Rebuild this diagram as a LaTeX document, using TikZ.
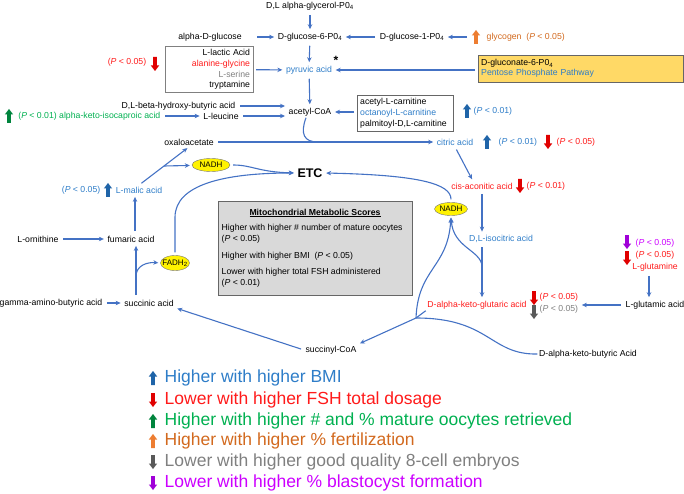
\documentclass[tikz,border=0pt]{standalone}
\usepackage{fontspec}
\setmainfont{Liberation Sans}
\usepackage{tikz}
\usetikzlibrary{shapes}
\usetikzlibrary{arrows.meta}
\definecolor{conblue}{HTML}{4472C4}
\definecolor{txtblue}{HTML}{2E7DC8}
\definecolor{arrblue}{HTML}{1F64A8}
\definecolor{txtred}{HTML}{FF1A1A}
\definecolor{arrred}{HTML}{E00000}
\definecolor{txtgreen}{HTML}{00B050}
\definecolor{arrgreen}{HTML}{00843D}
\definecolor{txtorange}{HTML}{D2691E}
\definecolor{arrorange}{HTML}{ED7D31}
\definecolor{txtgray}{HTML}{808080}
\definecolor{arrgray}{HTML}{595959}
\definecolor{txtpurple}{HTML}{CC00FF}
\definecolor{arrpurple}{HTML}{A000D8}
\definecolor{pppyellow}{HTML}{FFD966}
\definecolor{mitogray}{HTML}{D9D9D9}
\newcommand{\pval}[1]{(\textit{P} < #1)}

\begin{document}
\begin{tikzpicture}[x=1pt,y=-1pt,
	every node/.style={font=\fontsize{8.7}{10.7}\selectfont,inner sep=1.5pt},
	conn/.style={draw=conblue,line width=1.1pt,-{Stealth[length=5pt,width=4.5pt]},shorten <=3pt,shorten >=2pt},
	link/.style={draw=conblue,line width=1.1pt},
	carrier/.style={ellipse,draw=black!55,fill=yellow,inner sep=0pt,font=\fontsize{8}{9}\selectfont},
	upblk/.pic={\fill (-1.8,7) -- (1.8,7) -- (1.8,-1.5) -- (4.2,-1.5) -- (0,-7) -- (-4.2,-1.5) -- (-1.8,-1.5) -- cycle;},
	dnblk/.pic={\fill (-1.8,-7) -- (1.8,-7) -- (1.8,1.5) -- (4.2,1.5) -- (0,7) -- (-4.2,1.5) -- (-1.8,1.5) -- cycle;},
	legend/.style={anchor=west,font=\fontsize{17.5}{21}\selectfont}
	]
	\useasboundingbox (0,0) rectangle (684,494);
	\node (glycerol) at (310,6) {D,L alpha-glycerol-P0\textsubscript{4}};
	\node (g6p) at (310,37) {D-glucose-6-P0\textsubscript{4}};
	\node (adglc) at (210,37) {alpha-D-glucose};
	\node (g1p) at (412,37) {D-glucose-1-P0\textsubscript{4}};
	\pic[color=arrorange] at (476,37) {upblk};
	\node[text=txtorange,anchor=west] (glycogen) at (485,37) {glycogen~~\pval{0.05}};
	\node[text=txtblue] (pyruvic) at (309,70) {pyruvic acid};
	\node[font=\fontsize{12}{12}\selectfont\bfseries,inner sep=0pt] (ast) at (336,60) {*};
	\node[draw=gray,text width=82pt,align=right,inner sep=3pt,minimum height=43pt] (lactic) at (209,69.5) {L-lactic Acid\\\textcolor{txtred}{alanine-glycine}\\\textcolor{txtgray}{L-serine}\\tryptamine};
	\pic[color=arrred] at (155,64) {dnblk};
	\node[text=txtred] (lacp) at (127,62) {\pval{0.05}};
	\node[draw=gray!80!black,fill=pppyellow,anchor=north west,minimum width=205pt,minimum height=27pt,text width=199pt,align=left,inner sep=3pt,font=\fontsize{8.7}{10}\selectfont] (ppp) at (478,55) {D-gluconate-6-P0\textsubscript{4}\\\textcolor{txtblue}{Pentose Phosphate Pathway}};
	\node (acetyl) at (310,112) {acetyl-CoA};
	\node[anchor=east] (hydroxy) at (237,106) {D,L-beta-hydroxy-butyric acid};
	\node (leucine) at (221,116) {L-leucine};
	\pic[color=arrgreen] at (9,116) {upblk};
	\node[text=txtgreen,anchor=east] (isocap) at (162,116) {\pval{0.01} alpha-keto-isocaproic acid};
	\node[draw=gray!80!black,text width=90pt,align=left,inner sep=3pt,anchor=north west,font=\fontsize{8.7}{11}\selectfont] (carn) at (357,95) {acetyl-L-carnitine\\\textcolor{txtblue}{octanoyl-L-carnitine}\\palmitoyl-D,L-carnitine};
	\pic[color=arrblue] at (467,111) {upblk};
	\node[text=txtblue,anchor=west] (carnp) at (472,111) {\pval{0.01}};
	\node (oxalo) at (189,142) {oxaloacetate};
	\node[text=txtblue] (citric) at (455,142) {citric acid};
	\pic[color=arrblue] at (487,142) {upblk};
	\node[text=txtblue,anchor=west] (citp1) at (497,142) {\pval{0.01}};
	\pic[color=arrred] at (548,142) {dnblk};
	\node[text=txtred,anchor=west] (citp2) at (555,142) {\pval{0.05}};
	\node[carrier,minimum width=38pt,minimum height=13pt] (nadh1) at (211,165) {\makebox[0pt]{NADH}};
	\node[font=\fontsize{12.5}{14}\selectfont\bfseries] (etc) at (310,173) {ETC};
	\node[text=txtred] (cisaco) at (482,186) {cis-aconitic acid};
	\pic[color=arrred] at (520,186) {dnblk};
	\node[text=txtred,anchor=west] (cisp) at (525,186) {\pval{0.01}};
	\node[carrier,minimum width=33pt,minimum height=13pt] (nadh2) at (451,209) {\makebox[0pt]{NADH}};
	\node[text=txtblue] (malic) at (139,190) {L-malic acid};
	\pic[color=arrblue] at (108,190) {upblk};
	\node[text=txtblue,anchor=east] (malp) at (102,190) {\pval{0.05}};
	\node (ornithine) at (38,239) {L-ornithine};
	\node (fumaric) at (131,239) {fumaric acid};
	\node[text=txtblue] (isocitric) at (501,239) {D,L-isocitric acid};
	\pic[color=arrpurple] at (627,242) {dnblk};
	\node[text=txtpurple,anchor=west] (glnp1) at (634,243) {\pval{0.05}};
	\pic[color=arrred] at (627,258) {dnblk};
	\node[text=txtred,anchor=west] (glnp2) at (634,255) {\pval{0.05}};
	\node[text=txtred] (glutamine) at (655,267) {L-glutamine};
	\node[carrier,minimum width=29pt,minimum height=15pt] (fadh) at (175,263) {\makebox[0pt]{FADH\textsubscript{2}}};
	\node (gaba) at (51,303) {gamma-amino-butyric acid};
	\node (succinic) at (149,303) {succinic acid};
	\node[text=txtred] (ketoglu) at (477,305) {D-alpha-keto-glutaric acid};
	\pic[color=arrred] at (534,298) {dnblk};
	\node[text=txtred,anchor=west] (kgp1) at (538,297) {\pval{0.05}};
	\pic[color=arrgray] at (534,312) {dnblk};
	\node[text=txtgray,anchor=west] (kgp2) at (538,309) {\pval{0.05}};
	\node[anchor=west] (glutamic) at (624,305) {L-glutamic acid};
	\node (succoa) at (331,350) {succinyl-CoA};
	\node (ketobut) at (588,354) {D-alpha-keto-butyric Acid};
	\coordinate (kj) at (416,318);
	\node[draw=gray!80!black,fill=mitogray,minimum width=194pt,minimum height=94pt,anchor=north west] (mito) at (218,201) {};
	\node (mitotitle) at (315,213) {\underline{\textbf{Mitochondrial Metabolic Scores}}};
	\node[anchor=north west,align=left,font=\fontsize{8.7}{11}\selectfont] (mitotext) at (220,222) {Higher with higher \# number of mature oocytes\\\pval{0.05}\\[6pt]Higher with higher BMI~~\pval{0.05}\\[5pt]Lower with higher total FSH administered\\\pval{0.01}};
	\draw[conn] (glycerol) -- (g6p);
	\draw[conn,shorten <=14pt] (adglc) -- (g6p);
	\draw[conn] (g1p) -- (g6p);
	\draw[conn] ([xshift=-15pt]glycogen.west) -- (g1p);
	\draw[conn] (g6p) -- (pyruvic);
	\draw[conn] (lactic) -- (pyruvic);
	\draw[conn] (ppp.west |- pyruvic) -- (pyruvic);
	\draw[conn] (pyruvic) -- (acetyl);
	\draw[conn] (hydroxy.east) -- (hydroxy.east -| acetyl.west);
	\draw[conn] (leucine.east) -- (leucine.east -| acetyl.west);
	\draw[conn] (isocap) -- (leucine);
	\draw[conn] (carn.west |- acetyl) -- (acetyl);
	\draw[link] ([xshift=-4pt]acetyl.south) .. controls (300,134) and (304,142) .. (318,142);
	\draw[conn] (oxalo) -- (citric);
	\draw[conn] (malic.north) -- coordinate[pos=0.5] (malbr) (oxalo.south);
	\draw[conn,shorten <=0pt] (malbr) -- (nadh1);
	\draw[conn] (nadh1.east) .. controls (252,165) and (258,172) .. (etc.west);
	\draw[conn] (fadh.north) -- ++(0,-38) .. controls ++(0,-33) and (225,173) .. (etc.west);
	\draw[conn] (nadh2.north) .. controls (451,184) and (420,175) .. (etc.east);
	\draw[conn] (citric.south) -- ([xshift=-9pt]cisaco.north);
	\draw[conn] (cisaco.south) -- (cisaco.south |- isocitric.north);
	\draw[conn] (isocitric.south -| cisaco.south) -- coordinate[pos=0.4] (isobr) (ketoglu.north -| cisaco.south);
	\draw[conn,shorten <=0pt] (isobr) .. controls (481,250) and (453,248) .. (nadh2.south);
	\draw[conn,shorten <=0pt] (kj) .. controls (418,268) and (448,268) .. (nadh2.south);
	\draw[link] (ketoglu.south west) -- (kj);
	\draw[conn,shorten <=0pt] (kj) -- (succoa.north east);
	\draw[link] (ketobut.west) .. controls (490,355) and (490,318) .. (kj);
	\draw[conn] ([xshift=-6pt]glutamine.south) -- ([xshift=-6pt]glutamine.south |- glutamic.north);
	\draw[conn] (glutamic.west) -- (glutamic.west -| kgp1.east);
	\draw[conn] (succoa.west) -- (succinic.south east);
	\draw[conn] (gaba) -- (succinic);
	\draw[conn] ([xshift=-13pt]succinic.north) -- coordinate[pos=0.4] (sucbr) ([xshift=5pt]fumaric.south);
	\draw[conn,shorten <=0pt] (sucbr) .. controls (136,265) and (148,262) .. (fadh.west);
	\draw[conn] (ornithine) -- (fumaric);
	\draw[conn] ([xshift=4pt]fumaric.north) -- ([xshift=-4pt]malic.south);
	\pic[color=arrblue] at (153,378) {upblk};
	\node[legend,text=txtblue] (leg1) at (163,378) {Higher with higher BMI};
	\pic[color=arrred] at (153,400) {dnblk};
	\node[legend,text=txtred] (leg2) at (163,400) {Lower with higher FSH total dosage};
	\pic[color=arrgreen] at (153,421) {upblk};
	\node[legend,text=txtgreen] (leg3) at (163,421) {Higher with higher \# and \% mature oocytes retrieved};
	\pic[color=arrorange] at (153,441) {upblk};
	\node[legend,text=txtorange] (leg4) at (163,441) {Higher with higher \% fertilization};
	\pic[color=arrgray] at (153,462) {dnblk};
	\node[legend,text=txtgray] (leg5) at (163,462) {Lower with higher good quality 8-cell embryos};
	\pic[color=arrpurple] at (153,483) {dnblk};
	\node[legend,text=txtpurple] (leg6) at (163,483) {Lower with higher \% blastocyst formation};
\end{tikzpicture}
\end{document}
